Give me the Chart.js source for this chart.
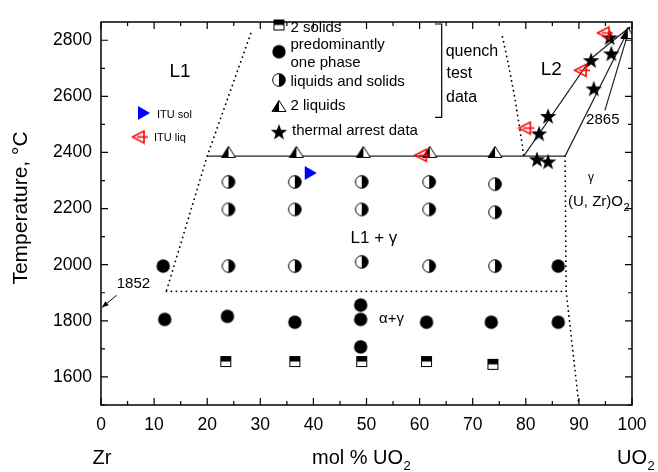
<!DOCTYPE html>
<html>
<head>
<meta charset="utf-8">
<script src="https://cdn.jsdelivr.net/npm/chart.js@4.4.1/dist/chart.umd.min.js"></script>
<style>
html, body { margin: 0; padding: 0; background: #fff; }
#wrap { width: 658px; height: 472px; position: relative; }
</style>
</head>
<body>
<div id="wrap"><canvas id="chart"></canvas></div>
<script>
// points are [mol % UO2, temperature in °C]
const xTicks = [0, 10, 20, 30, 40, 50, 60, 70, 80, 90, 100];
const yTicks = [1600, 1800, 2000, 2200, 2400, 2600, 2800];

// quench test data
const twoSolids = [[23.5, 1655], [36.5, 1655], [49.1, 1655], [61.3, 1655], [73.8, 1645]];
const onePhase = [[11.7, 1995], [86.1, 1995], [12.0, 1805], [23.8, 1816], [36.5, 1795],
    [48.9, 1805], [48.9, 1856], [48.9, 1707], [61.3, 1795], [73.5, 1795], [86.1, 1795]];
const liqAndSol = [[24, 2295], [36.5, 2295], [49.1, 2295], [61.8, 2295], [74.2, 2287],
    [24, 2197], [36.5, 2197], [49.1, 2197], [61.8, 2197], [74.2, 2187],
    [24, 1995], [36.5, 1995], [49.1, 2010], [61.8, 1995], [74.2, 1995]];
const twoLiquids = [[24, 2402], [36.8, 2402], [49.4, 2402], [61.9, 2402], [74.2, 2402], [99.2, 2826]];

// thermal arrest + ITU
const thermalArrest = [[95.8, 2810], [92.3, 2729], [96.1, 2753], [92.8, 2628],
    [84.2, 2530], [82.5, 2468], [82.1, 2376], [84.2, 2368]];
const ituLiq = [[94.9, 2826], [90.6, 2693], [80.1, 2487], [60.5, 2390]];
const ituSol = [[39.5, 2327]];

// phase boundaries
const eutectic = [[20, 2387], [87.4, 2387]];
const liquidusUO2 = [[79.6, 2387], [92.3, 2735], [99.6, 2847]];
const solidusUO2 = [[87.4, 2387], [99.6, 2847]];
const pointer2865 = [[94.9, 2550], [99.6, 2847]];
const liquidusL1 = [[28.2, 2824], [20, 2387], [12.3, 1905]];
const monotectic = [[12.3, 1905], [87.6, 1905]];
const liquidusL2 = [[75.6, 2812], [76.7, 2717], [77.9, 2598], [79.2, 2444], [79.6, 2387]];
const solvusUO2 = [[87.4, 2387], [87.6, 1905], [90, 1500]];

const FONT = "'Liberation Sans', Arial, sans-serif";
const toXY = a => a.map(([x, y]) => ({ x, y }));

// marker images
function mk(w, h, draw) {
    const c = document.createElement('canvas');
    c.width = w; c.height = h;
    draw(c.getContext('2d'));
    return c;
}
const mkHalfCircle = mk(16, 16, g => {
    g.beginPath(); g.arc(8, 8, 6.3, 0, Math.PI * 2);
    g.fillStyle = '#fff'; g.fill();
    g.beginPath(); g.arc(8, 8, 6.3, -Math.PI / 2, Math.PI / 2); g.closePath();
    g.fillStyle = '#000'; g.fill();
    g.beginPath(); g.arc(8, 8, 6.3, 0, Math.PI * 2);
    g.lineWidth = 1; g.strokeStyle = '#000'; g.stroke();
});
const mkCircle = mk(16, 16, g => {
    g.beginPath(); g.arc(8, 8, 6.7, 0, Math.PI * 2);
    g.fillStyle = '#000'; g.fill();
});
const mkSquare = mk(13, 13, g => {
    g.fillStyle = '#fff'; g.fillRect(1, 1, 11, 11);
    g.fillStyle = '#000'; g.fillRect(1, 1, 11, 5.5);
    g.lineWidth = 1; g.strokeStyle = '#000'; g.strokeRect(1.5, 1.5, 10, 10);
});
const mkTriangle = mk(16, 14, g => {
    g.beginPath(); g.moveTo(8, 1.5); g.lineTo(1, 12.5); g.lineTo(15, 12.5); g.closePath();
    g.fillStyle = '#fff'; g.fill();
    g.beginPath(); g.moveTo(8, 1.5); g.lineTo(1, 12.5); g.lineTo(8, 12.5); g.closePath();
    g.fillStyle = '#000'; g.fill();
    g.beginPath(); g.moveTo(8, 1.5); g.lineTo(1, 12.5); g.lineTo(15, 12.5); g.closePath();
    g.lineWidth = 1; g.strokeStyle = '#000'; g.stroke();
});
const mkStar = mk(20, 20, g => {
    g.beginPath();
    for (let i = 0; i < 10; i++) {
        const r = i % 2 ? 3.5 : 8.6;
        const a = -Math.PI / 2 + i * Math.PI / 5;
        g.lineTo(10 + r * Math.cos(a), 10.8 + r * Math.sin(a));
    }
    g.closePath(); g.fillStyle = '#000'; g.fill();
});
const mkBlue = mk(14, 16, g => {
    g.beginPath(); g.moveTo(1, 1); g.lineTo(13, 8); g.lineTo(1, 15); g.closePath();
    g.fillStyle = '#0000ff'; g.fill();
});
const mkRed = mk(18, 15, g => {
    g.strokeStyle = '#ff0000'; g.lineWidth = 1.6;
    g.beginPath(); g.moveTo(1.5, 7.5); g.lineTo(13, 1.5); g.lineTo(13, 13.5); g.closePath(); g.stroke();
    g.beginPath(); g.moveTo(6, 7.5); g.lineTo(17, 7.5); g.stroke();
});

function lineSet(pts, dotted) {
    return {
        data: toXY(pts), showLine: true, pointRadius: 0, order: 3,
        borderColor: dotted ? '#000' : '#222',
        borderWidth: dotted ? 1.8 : 1.2,
        borderDash: dotted ? [0.1, 4.9] : [],
        borderCapStyle: dotted ? 'round' : 'butt'
    };
}
function markSet(pts, img, order) {
    return { data: toXY(pts), pointStyle: img, pointRadius: 7, showLine: false, order: order };
}

// text, legend, frame and inward ticks
const decor = {
    id: 'decor',
    afterDraw(chart) {
        const ctx = chart.ctx;
        const xs = chart.scales.x, ys = chart.scales.y;
        const ca = chart.chartArea;
        const px = v => xs.getPixelForValue(v), py = v => ys.getPixelForValue(v);
        const text = (s, x, y, size, align) => {
            ctx.font = size + 'px ' + FONT;
            ctx.textAlign = align || 'center';
            ctx.textBaseline = 'middle';
            ctx.fillText(s, x, y);
        };
        ctx.save();
        ctx.fillStyle = '#000';

        // frame + ticks
        ctx.strokeStyle = '#000';
        ctx.lineWidth = 1.5;
        ctx.strokeRect(ca.left, ca.top, ca.right - ca.left, ca.bottom - ca.top);
        ctx.lineWidth = 1.2;
        ctx.beginPath();
        for (let v = 0; v <= 100; v += 5) {
            const len = v % 10 === 0 ? 7 : 4;
            const x = px(v);
            ctx.moveTo(x, ca.bottom); ctx.lineTo(x, ca.bottom - len);
            ctx.moveTo(x, ca.top); ctx.lineTo(x, ca.top + len);
        }
        for (let v = 1500; v <= 2800; v += 100) {
            const len = v % 200 === 0 ? 7 : 4;
            const y = py(v);
            ctx.moveTo(ca.left, y); ctx.lineTo(ca.left + len, y);
            ctx.moveTo(ca.right, y); ctx.lineTo(ca.right - len, y);
        }
        ctx.stroke();

        // region labels
        text('L1', px(14.9), py(2687), 19);
        text('L2', px(84.8), py(2693), 19);
        text('L1 + \u03b3', px(51.4), py(2094), 17);
        text('\u03b1+\u03b3', px(54.7), py(1806), 15);
        text('\u03b3', px(92.3), py(2310), 12);
        text('(U, Zr)O', 568, 202, 15, 'left');
        ctx.font = '15px ' + FONT;
        const wUZ = ctx.measureText('(U, Zr)O').width;
        text('2', 568 + wUZ + 0.5, 208, 11, 'left');
        text('2865', px(94.5), py(2517), 15);
        text('1852', px(6.1), py(1931), 15);

        // 1852 arrow
        const ax0 = px(2.95), ay0 = py(1891), ax1 = px(0.2), ay1 = py(1848);
        ctx.lineWidth = 1;
        ctx.beginPath(); ctx.moveTo(ax0, ay0); ctx.lineTo(ax1, ay1); ctx.stroke();
        const ang = Math.atan2(ay1 - ay0, ax1 - ax0);
        ctx.beginPath();
        ctx.moveTo(ax1, ay1);
        ctx.lineTo(ax1 - 7 * Math.cos(ang - 0.4), ay1 - 7 * Math.sin(ang - 0.4));
        ctx.lineTo(ax1 - 7 * Math.cos(ang + 0.4), ay1 - 7 * Math.sin(ang + 0.4));
        ctx.closePath(); ctx.fill();

        // ITU legend
        ctx.drawImage(mkBlue, 144 - 7, 113 - 8);
        ctx.drawImage(mkRed, 140 - 9, 137 - 7.5);
        text('ITU sol', 157, 115, 11, 'left');
        text('ITU liq', 154, 138, 11, 'left');

        // main legend
        const lx = 279;
        ctx.drawImage(mkSquare, lx - 6.5, 25 - 6.5);
        ctx.drawImage(mkCircle, lx - 8, 51.7 - 8);
        ctx.drawImage(mkHalfCircle, lx - 8, 80 - 8);
        ctx.drawImage(mkTriangle, lx - 8, 106 - 7);
        ctx.drawImage(mkStar, lx - 10, 131.7 - 10);
        text('2 solids', 290.5, 28.3, 15, 'left');
        text('predominantly', 290.5, 45, 15, 'left');
        text('one phase', 290.5, 63.3, 15, 'left');
        text('liquids and solids', 290.5, 81.7, 15, 'left');
        text('2 liquids', 290.5, 106, 15, 'left');
        text('thermal arrest data', 292, 130.7, 15, 'left');
        ctx.lineWidth = 1.2;
        ctx.beginPath();
        ctx.moveTo(435, 24); ctx.lineTo(441.7, 24); ctx.lineTo(441.7, 117.3); ctx.lineTo(435, 117.3);
        ctx.stroke();
        text('quench', 445.7, 51.7, 16, 'left');
        text('test', 446.5, 73.3, 16, 'left');
        text('data', 446, 97.3, 16, 'left');

        // axis titles
        ctx.save();
        ctx.translate(21, 208);
        ctx.rotate(-Math.PI / 2);
        text('Temperature, \u00b0C', 0, 0, 21);
        ctx.restore();
        text('Zr', 102, 458, 20);
        ctx.font = '20px ' + FONT;
        const wMol = ctx.measureText('mol % UO').width;
        text('mol % UO', 312, 458, 20, 'left');
        text('2', 312 + wMol + 0.5, 466, 13, 'left');
        text('UO', 617, 458, 20, 'left');
        ctx.font = '20px ' + FONT;
        const wUO = ctx.measureText('UO').width;
        text('2', 617 + wUO + 0.5, 466, 13, 'left');
        ctx.restore();
    }
};

new Chart(document.getElementById('chart'), {
    type: 'scatter',
    data: {
        datasets: [
            lineSet(eutectic, false),
            lineSet(liquidusUO2, false),
            lineSet(solidusUO2, false),
            lineSet(pointer2865, false),
            lineSet(liquidusL1, true),
            lineSet(monotectic, true),
            lineSet(liquidusL2, true),
            lineSet(solvusUO2, true),
            markSet(twoSolids, mkSquare, 2),
            markSet(onePhase, mkCircle, 2),
            markSet(liqAndSol, mkHalfCircle, 2),
            markSet(twoLiquids, mkTriangle, 2),
            markSet(thermalArrest, mkStar, 2),
            markSet(ituSol, mkBlue, 1),
            markSet(ituLiq, mkRed, 0)
        ]
    },
    options: {
        responsive: true,
        maintainAspectRatio: false,
        animation: false,
        layout: { padding: { top: 22, right: 26, left: 0, bottom: 0 } },
        plugins: { legend: { display: false }, tooltip: { enabled: false } },
        scales: {
            x: {
                type: 'linear', min: 0, max: 100,
                afterBuildTicks: s => { s.ticks = xTicks.map(v => ({ value: v })); },
                afterFit: s => { s.height = 67; },
                grid: { display: false, drawTicks: false },
                border: { display: false },
                ticks: { color: '#000', padding: 10, maxRotation: 0, callback: v => String(v),
                    font: { family: FONT, size: 17.5 } }
            },
            y: {
                type: 'linear', min: 1500, max: 2865,
                afterBuildTicks: s => { s.ticks = yTicks.map(v => ({ value: v })); },
                afterFit: s => { s.width = 101; },
                grid: { display: false, drawTicks: false },
                border: { display: false },
                ticks: { color: '#000', padding: 9, callback: v => String(v),
                    font: { family: FONT, size: 17.5 } }
            }
        }
    },
    plugins: [decor]
});
</script>
</body>
</html>
